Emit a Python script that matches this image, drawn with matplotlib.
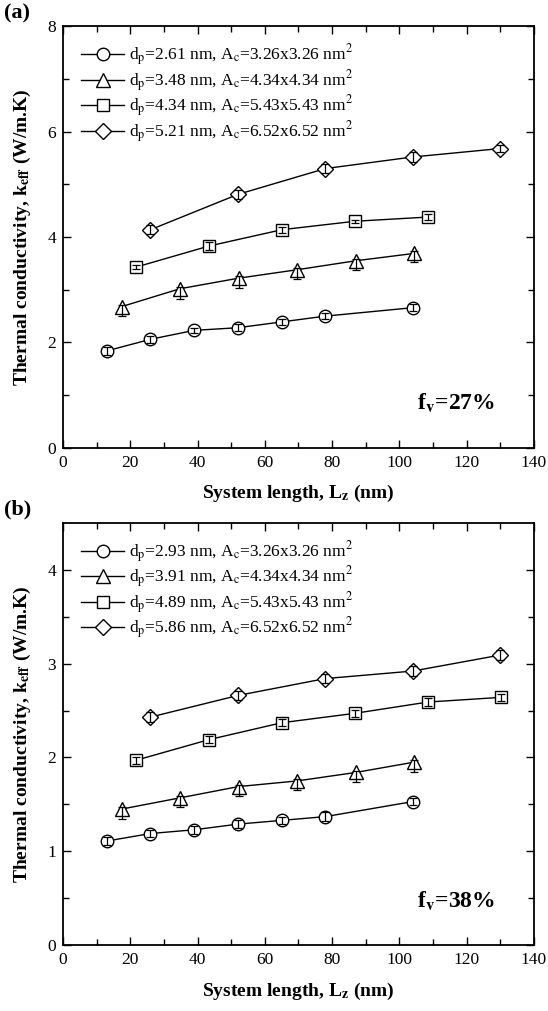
import matplotlib
matplotlib.use("Agg")
import matplotlib.pyplot as plt
import numpy as np

plt.rcParams['font.family'] = ['Liberation Serif', 'DejaVu Serif']
plt.rcParams['mathtext.fontset'] = 'stix'

# ---------------- data ----------------
x_circ = [13.0, 26.0, 39.0, 52.0, 65.0, 78.0, 104.0]
x_tri = [17.4, 34.8, 52.2, 69.6, 87.0, 104.4]
x_sq_a = [21.7, 43.4, 65.1, 86.8, 108.5]
x_sq_b = [21.7, 43.4, 65.1, 86.8, 108.5, 130.2]
x_dia = [26.0, 52.0, 78.0, 104.0, 130.0]

# panel (a), fv = 27%
a_circ = [1.84, 2.06, 2.23, 2.28, 2.39, 2.50, 2.66]
a_tri = [2.68, 3.02, 3.22, 3.38, 3.55, 3.69]
a_sq = [3.43, 3.83, 4.14, 4.30, 4.38]
a_dia = [4.14, 4.81, 5.30, 5.52, 5.68]
a_err_circ = [0.07, 0.07, 0.05, 0.07, 0.06, 0.05, 0.07]
a_err_tri_lo = [0.18, 0.20, 0.18, 0.18, 0.18, 0.16]
a_err_tri_hi = [0.04, 0.04, 0.04, 0.04, 0.04, 0.04]
a_err_sq = [0.04, 0.07, 0.06, 0.03, 0.05]
a_err_dia = [0.09, 0.09, 0.08, 0.09, 0.07]

# panel (b), fv = 38%
b_circ = [1.11, 1.19, 1.23, 1.29, 1.33, 1.37, 1.53]
b_tri = [1.45, 1.57, 1.69, 1.75, 1.84, 1.95]
b_sq = [1.97, 2.19, 2.37, 2.47, 2.59, 2.64]
b_dia = [2.43, 2.66, 2.84, 2.92, 3.09]
b_err_circ = [0.04, 0.04, 0.04, 0.04, 0.04, 0.05, 0.04]
b_err_tri_lo = [0.10, 0.10, 0.10, 0.10, 0.10, 0.10]
b_err_tri_hi = [0.02, 0.02, 0.02, 0.02, 0.02, 0.02]
b_err_sq = [0.04, 0.04, 0.04, 0.04, 0.04, 0.04]
b_err_dia = [0.05, 0.05, 0.05, 0.05, 0.05]

labels_a = [r'd$_\mathrm{p}$=2.61 nm, A$_\mathrm{c}$=3.26x3.26 nm$^2$',
            r'd$_\mathrm{p}$=3.48 nm, A$_\mathrm{c}$=4.34x4.34 nm$^2$',
            r'd$_\mathrm{p}$=4.34 nm, A$_\mathrm{c}$=5.43x5.43 nm$^2$',
            r'd$_\mathrm{p}$=5.21 nm, A$_\mathrm{c}$=6.52x6.52 nm$^2$']
labels_b = [r'd$_\mathrm{p}$=2.93 nm, A$_\mathrm{c}$=3.26x3.26 nm$^2$',
            r'd$_\mathrm{p}$=3.91 nm, A$_\mathrm{c}$=4.34x4.34 nm$^2$',
            r'd$_\mathrm{p}$=4.89 nm, A$_\mathrm{c}$=5.43x5.43 nm$^2$',
            r'd$_\mathrm{p}$=5.86 nm, A$_\mathrm{c}$=6.52x6.52 nm$^2$']

markers = ['o', '^', 's', 'D']
msizes = [9, 10, 8, 8.5]

fig = plt.figure(figsize=(5.48, 10.11), dpi=100)
ax_a = fig.add_axes([0.115, 0.557, 0.859, 0.417])
ax_b = fig.add_axes([0.115, 0.065, 0.859, 0.418])


def draw(ax, xs, ys, errs, labels, ymax, ymajor, yminor, ftext, panel):
    for i, (x, y, e) in enumerate(zip(xs, ys, errs)):
        ax.plot(x, y, color='black', lw=1.0, marker=markers[i], ms=msizes[i],
                mfc='white', mec='black', mew=1.0, label=labels[i], zorder=2)
        ax.errorbar(x, y, yerr=e, fmt='none', ecolor='black', elinewidth=0.9,
                    capsize=3, capthick=0.9, zorder=3)
    ax.set_xlim(0, 140)
    ax.set_ylim(0, ymax)
    ax.set_xticks(np.arange(0, 141, 20))
    ax.set_xticks(np.arange(10, 140, 20), minor=True)
    ax.set_yticks(ymajor)
    ax.set_yticks(yminor, minor=True)
    ax.tick_params(which='both', direction='in', top=True, right=True,
                   labelsize=12.5, width=1.0)
    ax.tick_params(which='major', length=6, pad=5)
    ax.tick_params(which='minor', length=4)
    for sp in ax.spines.values():
        sp.set_linewidth(1.3)
    ax.set_xlabel(r'System length, L$_\mathbf{z}$ (nm)', fontsize=14,
                  fontweight='bold', labelpad=9)
    ax.set_ylabel(r'Thermal conductivity, k$_\mathbf{eff}$ (W/m.K)',
                  fontsize=14, fontweight='bold', labelpad=10)
    ax.legend(loc='upper left', frameon=False, fontsize=12.5,
              handlelength=2.5, handletextpad=0.25, labelspacing=0.0,
              borderaxespad=0.3, bbox_to_anchor=(0.012, 0.99))
    ax.text(0.918, 0.105, ftext, transform=ax.transAxes, ha='right',
            va='center', fontsize=17, fontweight='bold')
    fig.text(0.008, ax.get_position().y1 + 0.013, panel, fontsize=16,
             fontweight='bold', ha='left', va='center')


draw(ax_a, [x_circ, x_tri, x_sq_a, x_dia], [a_circ, a_tri, a_sq, a_dia],
     [a_err_circ, [a_err_tri_lo, a_err_tri_hi], a_err_sq, a_err_dia],
     labels_a, 8, [0, 2, 4, 6, 8], [1, 3, 5, 7],
     r'f$_\mathbf{v}$=27%', '(a)')
draw(ax_b, [x_circ, x_tri, x_sq_b, x_dia], [b_circ, b_tri, b_sq, b_dia],
     [b_err_circ, [b_err_tri_lo, b_err_tri_hi], b_err_sq, b_err_dia],
     labels_b, 4.5, [0, 1, 2, 3, 4], [0.5, 1.5, 2.5, 3.5],
     r'f$_\mathbf{v}$=38%', '(b)')

fig.savefig('out.png', dpi=100)
